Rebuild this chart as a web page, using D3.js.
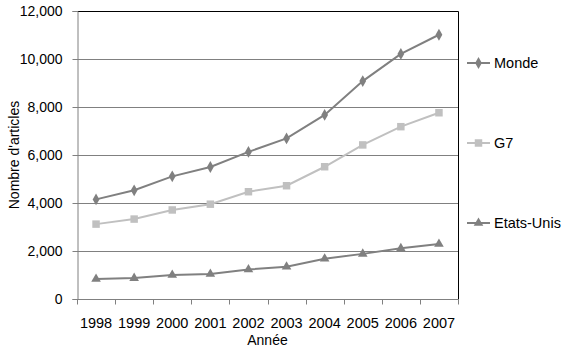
<!DOCTYPE html>
<html>
<head>
<meta charset="utf-8">
<script src="https://cdn.jsdelivr.net/npm/d3@7"></script>
<style>
  html, body { margin: 0; padding: 0; background: #fff; }
  svg { display: block; font-family: Arial, "Liberation Sans", sans-serif; }
</style>
</head>
<body>
<svg id="chart" width="570" height="350"></svg>
<script>
// Publications par année
const years = ["1998", "1999", "2000", "2001", "2002", "2003", "2004", "2005", "2006", "2007"];
const monde = [4150, 4530, 5110, 5500, 6130, 6690, 7670, 9080, 10210, 11010];
const g7 = [3120, 3330, 3710, 3950, 4470, 4720, 5510, 6420, 7180, 7760];
const etatsUnis = [830, 870, 1000, 1040, 1230, 1340, 1680, 1880, 2110, 2290];
const yTicks = [0, 2000, 4000, 6000, 8000, 10000, 12000];
const seriesNames = ["Monde", "G7", "Etats-Unis"];

const series = [
  { name: seriesNames[0], values: monde, color: "#808080", marker: "diamond" },
  { name: seriesNames[1], values: g7, color: "#c0c0c0", marker: "square" },
  { name: seriesNames[2], values: etatsUnis, color: "#808080", marker: "triangle" }
];

const svg = d3.select("#chart");
const m = { left: 77, right: 458, top: 11, bottom: 299 };

const x = d3.scaleBand().domain(years).range([m.left, m.right]);
const y = d3.scaleLinear().domain([0, 12000]).range([m.bottom, m.top]);
const fmt = d3.format(",");

// gridlines
svg.append("g").selectAll("line")
  .data(yTicks.filter(t => t > 0 && t < 12000))
  .join("line")
  .attr("x1", m.left).attr("x2", m.right)
  .attr("y1", d => Math.round(y(d)) + 0.5).attr("y2", d => Math.round(y(d)) + 0.5)
  .attr("stroke", "#808080").attr("stroke-width", 1);

// top and right border of the plot area
svg.append("path")
  .attr("d", `M${m.left},${m.top + 0.5}H${m.right + 0.5}V${m.bottom}`)
  .attr("fill", "none").attr("stroke", "#000").attr("stroke-width", 1);

// y axis
const yAxis = svg.append("g")
  .attr("transform", `translate(${m.left + 0.5},0)`)
  .call(d3.axisLeft(y).tickValues(yTicks).tickFormat(fmt).tickSize(5).tickPadding(10));
yAxis.select(".domain").attr("stroke", "#808080");
yAxis.selectAll(".tick line").attr("stroke", "#808080");
yAxis.selectAll("text").attr("font-size", 14).attr("fill", "#000")
  .attr("font-family", "Arial, 'Liberation Sans', sans-serif");

// x axis: tick marks at band edges, labels at band centers
const xAxisG = svg.append("g").attr("transform", `translate(0,${m.bottom + 0.5})`);
xAxisG.append("line").attr("x1", m.left).attr("x2", m.right + 1)
  .attr("stroke", "#808080");
const edges = years.map(d => x(d)).concat([x.range()[1]]);
xAxisG.selectAll("line.tk").data(edges).join("line").attr("class", "tk")
  .attr("x1", d => Math.round(d) + 0.5).attr("x2", d => Math.round(d) + 0.5)
  .attr("y1", 0).attr("y2", 5).attr("stroke", "#808080");
xAxisG.selectAll("text").data(years).join("text")
  .attr("x", d => x(d) + x.bandwidth() / 2).attr("y", 28)
  .attr("text-anchor", "middle").attr("font-size", 14.5).attr("fill", "#000")
  .text(d => d);

// axis titles
svg.append("text").attr("x", (m.left + m.right) / 2).attr("y", 345)
  .attr("text-anchor", "middle").attr("font-size", 14).text("Année");
svg.append("text")
  .attr("transform", `translate(19,${(m.top + m.bottom) / 2}) rotate(-90)`)
  .attr("text-anchor", "middle").attr("font-size", 14).text("Nombre d'articles");

// marker shapes
const markerPath = {
  diamond: d3.symbol(d3.symbolDiamond, 40)(),
  square: d3.symbol(d3.symbolSquare, 56)(),
  triangle: d3.symbol(d3.symbolTriangle, 40)()
};

const line = d3.line()
  .x((d, i) => x(years[i]) + x.bandwidth() / 2)
  .y(d => y(d));

series.forEach(s => {
  const g = svg.append("g");
  g.append("path").datum(s.values).attr("d", line)
    .attr("fill", "none").attr("stroke", s.color).attr("stroke-width", 2);
  g.selectAll("path.mk").data(s.values).join("path").attr("class", "mk")
    .attr("d", markerPath[s.marker])
    .attr("transform", (d, i) => `translate(${x(years[i]) + x.bandwidth() / 2},${y(d)})`)
    .attr("fill", s.color);
});

// legend
const legendY = [63, 143, 223];
series.forEach((s, i) => {
  const g = svg.append("g").attr("transform", `translate(467,${legendY[i]})`);
  g.append("line").attr("x1", 0).attr("x2", 23).attr("y1", 0).attr("y2", 0)
    .attr("stroke", s.color).attr("stroke-width", 2);
  g.append("path").attr("d", markerPath[s.marker])
    .attr("transform", "translate(11.5,0)").attr("fill", s.color);
  g.append("text").attr("x", 27).attr("y", 5).attr("font-size", 14.5)
    .attr("fill", "#000").text(s.name);
});
</script>
</body>
</html>
